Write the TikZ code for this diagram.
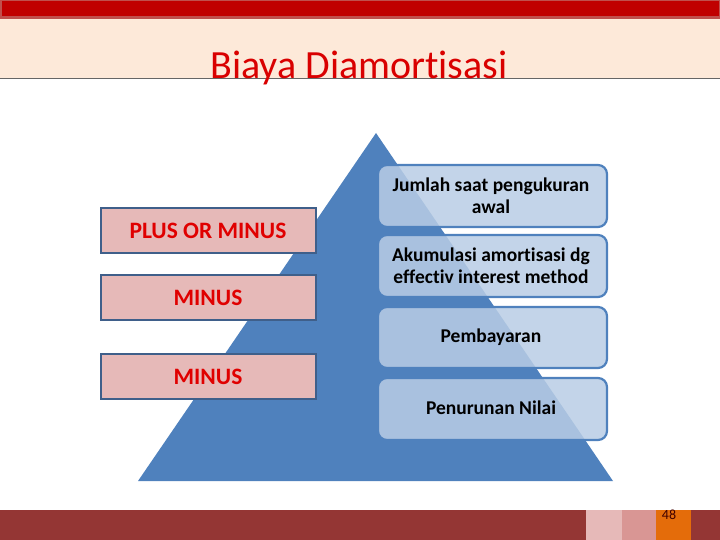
\documentclass[tikz,border=0pt]{standalone}
\usepackage{fontspec}
\setmainfont[Ligatures={NoCommon}]{Carlito}
\definecolor{barred}{HTML}{C00000}
\definecolor{barborder}{HTML}{C0504D}
\definecolor{peach}{HTML}{FDE9D9}
\definecolor{pyrblue}{HTML}{4F81BD}
\definecolor{boxblue}{HTML}{B9CDE5}
\definecolor{leftfill}{HTML}{E6B9B8}
\definecolor{leftborder}{HTML}{3F5F8A}
\definecolor{textred}{HTML}{E00000}
\definecolor{darkred}{HTML}{943634}
\definecolor{pinkA}{HTML}{E6B9B8}
\definecolor{pinkB}{HTML}{D99694}
\definecolor{orangeC}{HTML}{E46C0A}
\tikzset{
  rightbox/.style={draw=pyrblue, line width=2.2pt, rounded corners=9pt, fill=boxblue, fill opacity=0.85, text opacity=1},
  leftbox/.style={draw=leftborder, line width=2.2pt, fill=leftfill},
  righttext/.style={font=\fontsize{19.5}{22}\selectfont\bfseries, align=center, text=black},
  lefttext/.style={font=\fontsize{23.5}{26}\selectfont\bfseries, text=textred}
}
\begin{document}
\begin{tikzpicture}[x=1pt,y=-1pt]
\useasboundingbox (0,0) rectangle (720,540);
% header
\fill[peach] (0,18) rectangle (720,78);
\fill[barborder] (0,0) rectangle (720,19);
\fill[barred] (1.5,1.5) rectangle (718.5,16.5);
\draw[gray!80!black, line width=0.8pt] (0,78) -- (720,78);
\node[anchor=base, text=red!85!black, font=\fontsize{40}{44}\selectfont, inner sep=0pt] (title) at (359,79) {Biaya Diamortisasi};
% pyramid
\fill[pyrblue] (376,133) -- (613,481) -- (138,481) -- cycle;
% right boxes
\draw[rightbox] (378,165) rectangle (607,227);
\draw[rightbox] (378,235) rectangle (607,297);
\draw[rightbox] (378,307) rectangle (607,368);
\draw[rightbox] (378,378) rectangle (607,440);
\node[righttext] (r1) at (491,196) {Jumlah saat pengukuran\\awal};
\node[righttext] (r2) at (491,266) {Akumulasi amortisasi dg\\effectiv interest method};
\node[righttext] (r3) at (491,337) {Pembayaran};
\node[righttext] (r4) at (491,408) {Penurunan Nilai};
% left boxes
\draw[leftbox] (101,208) rectangle (316,253);
\draw[leftbox] (101,275) rectangle (316,320);
\draw[leftbox] (101,354) rectangle (316,399);
\node[lefttext] (l1) at (208,231) {PLUS OR MINUS};
\node[lefttext] (l2) at (208,298) {MINUS};
\node[lefttext] (l3) at (208,377) {MINUS};
% footer
\fill[darkred] (0,510) rectangle (586,540);
\fill[pinkA] (586,510) rectangle (622,540);
\fill[pinkB] (622,510) rectangle (656,540);
\fill[orangeC] (656,510) rectangle (691,540);
\fill[darkred] (691,510) rectangle (720,540);
\node[font=\fontsize{14}{16}\selectfont, text=black!75!red, inner sep=0pt] (pg) at (669,515) {48};
\end{tikzpicture}
\end{document}
